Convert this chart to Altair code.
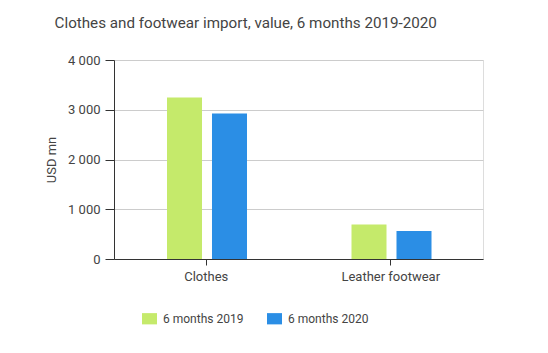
import altair as alt
import pandas as pd

categories = ["Clothes", "Leather footwear"]
series = ["6 months 2019", "6 months 2020"]
values_2019 = [3247, 692]
values_2020 = [2925, 565]
colors = ["#c5ea6b", "#2b8ee5"]

rows = []
for i, c in enumerate(categories):
    rows.append({"cat": c, "series": series[0], "value": values_2019[i]})
    rows.append({"cat": c, "series": series[1], "value": values_2020[i]})
df = pd.DataFrame(rows)

FONT = "Roboto"

chart = alt.Chart(df).mark_bar().encode(
    x=alt.X("cat:N", sort=categories,
            scale=alt.Scale(paddingInner=0, paddingOuter=0),
            axis=alt.Axis(title=None, labelAngle=0, labelFontSize=13, labelFont=FONT,
                          labelColor="#444", domainColor="#333", tickColor="#333",
                          tickSize=6, labelPadding=5, grid=False)),
    xOffset=alt.XOffset("series:N", sort=series,
                        scale=alt.Scale(range=[53, 133], paddingInner=0.222, paddingOuter=0)),
    y=alt.Y("value:Q",
            scale=alt.Scale(domain=[0, 4000], nice=False),
            axis=alt.Axis(title="USD mn", values=[0, 1000, 2000, 3000, 4000],
                          labelExpr="replace(format(datum.value, ','), ',', ' ')",
                          labelFontSize=13, labelFont=FONT, labelColor="#444",
                          titleFont=FONT, titleFontSize=13, titleFontWeight="normal",
                          titleColor="#444", titlePadding=9,
                          domainColor="#333", tickColor="#333", tickSize=9,
                          labelPadding=5, gridColor="#cccccc")),
    color=alt.Color("series:N", sort=series,
                    scale=alt.Scale(domain=series, range=colors),
                    legend=alt.Legend(title=None, orient="none", legendX=28, legendY=251,
                                      direction="horizontal",
                                      symbolType="M-1,-0.75L1,-0.75L1,0.75L-1,0.75Z",
                                      symbolSize=225, symbolStrokeWidth=0,
                                      labelFont=FONT, labelFontSize=12, labelColor="#444",
                                      labelOffset=6, columnPadding=23)),
).properties(
    width=369,
    height=199,
    title=alt.TitleParams("Clothes and footwear import, value, 6 months 2019-2020",
                          anchor="start", dx=9, dy=-19, fontSize=15.2, font=FONT,
                          fontWeight="normal", color="#444"),
    autosize=alt.AutoSizeParams(type="none"),
    padding={"left": 114, "top": 60, "right": 65, "bottom": 94},
).configure_view(stroke=None).configure(background="white")

chart.save("out.html", embed_options={"renderer": "svg", "actions": False})
